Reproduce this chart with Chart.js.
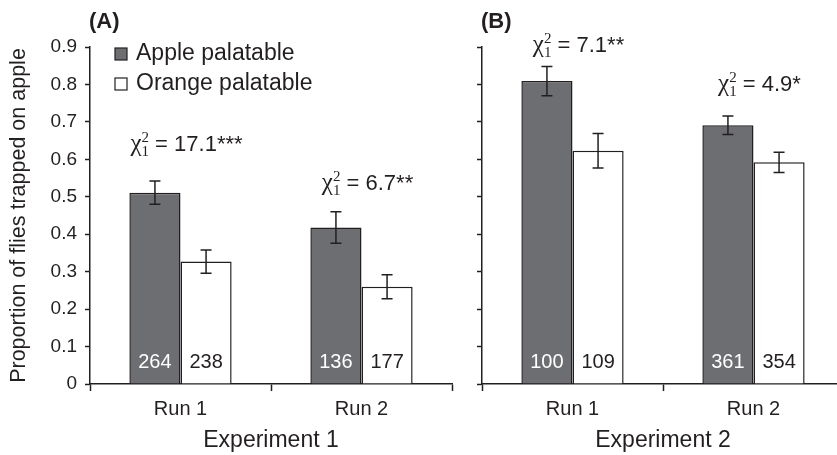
<!DOCTYPE html>
<html>
<head>
<meta charset="utf-8">
<script src="https://cdn.jsdelivr.net/npm/chart.js@4"></script>
<style>
    html, body { margin: 0; padding: 0; background: #fff; }
    body { width: 837px; height: 455px; position: relative; overflow: hidden; }
    canvas { position: absolute; top: 0; }
    #panelA { left: 0; }
    #panelB { left: 440px; }
</style>
</head>
<body>
<canvas id="panelA" width="460" height="455"></canvas>
<canvas id="panelB" width="404" height="455"></canvas>
<script>
// Data
const runs = ['Run 1', 'Run 2'];
const seriesNames = ['Apple palatable', 'Orange palatable'];

const exp1Apple = [0.511, 0.418];
const exp1AppleErr = [0.031, 0.042];
const exp1Orange = [0.327, 0.260];
const exp1OrangeErr = [0.031, 0.032];
const exp1AppleN = [264, 136];
const exp1OrangeN = [238, 177];
const exp1Chi = ['17.1***', '6.7**'];

const exp2Apple = [0.809, 0.691];
const exp2AppleErr = [0.039, 0.025];
const exp2Orange = [0.623, 0.592];
const exp2OrangeErr = [0.046, 0.027];
const exp2AppleN = [100, 361];
const exp2OrangeN = [109, 354];
const exp2Chi = ['7.1**', '4.9*'];

const yMin = 0, yMax = 0.9, yStep = 0.1;

const SANS = '"Liberation Sans", Arial, sans-serif';
const SERIF = '"Liberation Serif", "Times New Roman", serif';
const GREY = '#6d6e71';
const INK = '#231f20';

// error bars, n labels, chi-square notes, panel letter, legend
const extrasPlugin = {
    id: 'extras',
    afterDatasetsDraw(chart, args, opts) {
        const ctx = chart.ctx;
        const x = chart.scales.x, y = chart.scales.y;
        const area = chart.chartArea;
        ctx.save();

        // error bars + counts
        chart.data.datasets.forEach((ds, i) => {
            const meta = chart.getDatasetMeta(i);
            meta.data.forEach((bar, j) => {
                const v = ds.data[j], e = ds.err[j];
                const top = y.getPixelForValue(v + e);
                const bot = y.getPixelForValue(v - e);
                ctx.strokeStyle = INK;
                ctx.lineWidth = 1.5;
                ctx.beginPath();
                ctx.moveTo(bar.x, top); ctx.lineTo(bar.x, bot);
                ctx.moveTo(bar.x - 5.5, top); ctx.lineTo(bar.x + 5.5, top);
                ctx.moveTo(bar.x - 5.5, bot); ctx.lineTo(bar.x + 5.5, bot);
                ctx.stroke();

                ctx.font = '20px ' + SANS;
                ctx.textAlign = 'center';
                ctx.textBaseline = 'middle';
                ctx.fillStyle = i === 0 ? '#ffffff' : INK;
                ctx.fillText(String(ds.n[j]), bar.x, y.getPixelForValue(0) - 22);
            });
        });

        // chi-square notes
        opts.chi.forEach((txt, j) => {
            let topPix = Infinity;
            chart.data.datasets.forEach(ds => {
                topPix = Math.min(topPix, y.getPixelForValue(ds.data[j] + ds.err[j]));
            });
            const cy = topPix - opts.lift[j];
            const cx = x.getPixelForValue(j) + 6;
            const rest = ' = ' + txt;
            ctx.font = '25px ' + SERIF;
            const wChi = ctx.measureText('\u03C7').width;
            ctx.font = '15px ' + SERIF;
            const wSub = ctx.measureText('2').width;
            ctx.font = '22px ' + SANS;
            const wRest = ctx.measureText(rest).width;
            let sx = cx - (wChi + wSub + wRest) / 2;
            ctx.fillStyle = INK;
            ctx.textAlign = 'left';
            ctx.textBaseline = 'alphabetic';
            const base = cy + 8;
            ctx.font = '25px ' + SERIF;
            ctx.fillText('\u03C7', sx, base);
            sx += wChi;
            ctx.font = '15px ' + SERIF;
            ctx.fillText('2', sx, base - 9);
            ctx.fillText('1', sx, base + 5);
            sx += wSub;
            ctx.font = '22px ' + SANS;
            ctx.fillText(rest, sx, base);
        });

        // panel letter
        ctx.font = 'bold 22px ' + SANS;
        ctx.fillStyle = INK;
        ctx.textAlign = 'left';
        ctx.textBaseline = 'middle';
        ctx.fillText(opts.letter, area.left - 1, 22);

        // legend (panel A only)
        if (opts.legend) {
            chart.data.datasets.forEach((ds, i) => {
                const ry = area.top + 7 + i * 30;
                ctx.fillStyle = ds.backgroundColor;
                ctx.strokeStyle = INK;
                ctx.lineWidth = 1.2;
                ctx.fillRect(area.left + 25, ry - 6, 12, 12);
                ctx.strokeRect(area.left + 25, ry - 6, 12, 12);
                ctx.fillStyle = INK;
                ctx.font = '23px ' + SANS;
                ctx.textBaseline = 'middle';
                ctx.fillText(ds.label, area.left + 46, ry);
            });
        }
        ctx.restore();
    }
};

function makePanel(id, cfg) {
    const ctx = document.getElementById(id);
    return new Chart(ctx, {
        type: 'bar',
        data: {
            labels: runs,
            datasets: [
                {
                    label: seriesNames[0], data: cfg.apple, err: cfg.appleErr, n: cfg.appleN,
                    backgroundColor: GREY, borderColor: INK, borderWidth: 1.5,
                    categoryPercentage: 0.565, barPercentage: 1
                },
                {
                    label: seriesNames[1], data: cfg.orange, err: cfg.orangeErr, n: cfg.orangeN,
                    backgroundColor: '#ffffff', borderColor: INK, borderWidth: 1.5,
                    categoryPercentage: 0.565, barPercentage: 1
                }
            ]
        },
        options: {
            responsive: false,
            animation: false,
            layout: { padding: { left: 0, top: 47, right: cfg.padRight, bottom: 0 } },
            plugins: {
                legend: { display: false },
                tooltip: { enabled: false },
                extras: { chi: cfg.chi, lift: cfg.lift, letter: cfg.letter, legend: cfg.legend }
            },
            scales: {
                x: {
                    grid: { drawOnChartArea: false, drawTicks: true, tickLength: 7, tickColor: INK, tickWidth: 1.5, offset: true },
                    border: { display: true, color: INK, width: 1.5 },
                    ticks: { color: INK, font: { family: SANS, size: 20 }, padding: 6 },
                    title: { display: true, text: cfg.xTitle, color: INK, font: { family: SANS, size: 23 }, padding: { top: 0, bottom: 1 } },
                    afterFit: s => { s.height = 71; }
                },
                y: {
                    min: yMin, max: yMax,
                    grid: { drawOnChartArea: false, drawTicks: true, tickLength: 5, tickColor: INK, tickWidth: 1.5 },
                    border: { display: true, color: INK, width: 1.5 },
                    ticks: {
                        display: cfg.yLabels,
                        stepSize: yStep,
                        color: INK,
                        padding: 8,
                        font: { family: SANS, size: 19 },
                        callback: v => (v === 0 ? '0' : Number(v).toFixed(1))
                    },
                    title: {
                        display: cfg.yLabels,
                        text: 'Proportion of flies trapped on apple',
                        color: INK,
                        font: { family: SANS, size: 21.5 },
                        padding: { top: 6, bottom: 0 }
                    },
                    afterFit: s => { s.width = cfg.yWidth; }
                }
            }
        },
        plugins: [extrasPlugin]
    });
}

makePanel('panelA', {
    apple: exp1Apple, appleErr: exp1AppleErr, appleN: exp1AppleN,
    orange: exp1Orange, orangeErr: exp1OrangeErr, orangeN: exp1OrangeN,
    chi: exp1Chi, lift: [38, 30], letter: '(A)', legend: true,
    xTitle: 'Experiment 1', yLabels: true, yWidth: 90, padRight: 8
});

makePanel('panelB', {
    apple: exp2Apple, appleErr: exp2AppleErr, appleN: exp2AppleN,
    orange: exp2Orange, orangeErr: exp2OrangeErr, orangeN: exp2OrangeN,
    chi: exp2Chi, lift: [22, 33], letter: '(B)', legend: false,
    xTitle: 'Experiment 2', yLabels: false, yWidth: 42, padRight: 0
});
</script>
</body>
</html>
